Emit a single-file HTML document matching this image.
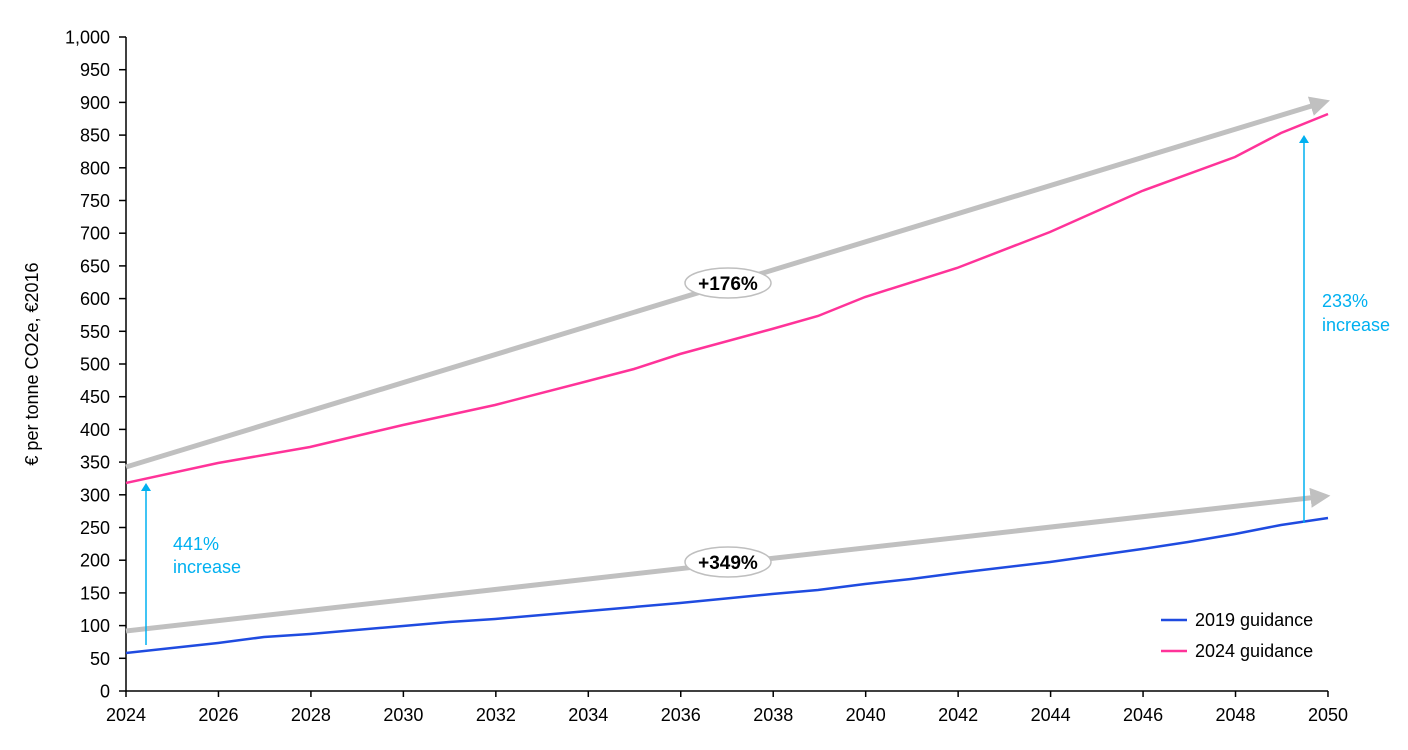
<!DOCTYPE html>
<html><head><meta charset="utf-8"><style>body{margin:0;background:#fff}</style></head><body>
<svg width="1408" height="745" xmlns="http://www.w3.org/2000/svg" font-family="Liberation Sans, Arial, sans-serif">
<defs>
<marker id="ga" markerWidth="4" markerHeight="4" refX="1.5" refY="2" orient="auto" markerUnits="strokeWidth"><path d="M0,0 L4,2 L0,4 Z" fill="#c0c0c0"/></marker>
<marker id="ca" markerWidth="8" markerHeight="10" refX="4" refY="5" orient="auto" markerUnits="userSpaceOnUse"><path d="M0,0 L8,5 L0,10 Z" fill="#00b0f0"/></marker>
</defs>
<g stroke="#000" stroke-width="1.5" fill="none">
<path d="M126,37 V691 H1328"/>
</g>
<g id="yt" font-size="18" fill="#000" text-anchor="end"></g>
<g id="xt" font-size="18" fill="#000" text-anchor="middle"></g>
<text transform="translate(38,364) rotate(-90)" font-size="18" text-anchor="middle">€ per tonne CO2e, €2016</text>
<line x1="126" y1="467" x2="1318" y2="104" stroke="#c0c0c0" stroke-width="5" marker-end="url(#ga)"/>
<line x1="126" y1="631" x2="1318" y2="497" stroke="#c0c0c0" stroke-width="5" marker-end="url(#ga)"/>
<polyline fill="none" stroke="#ff3399" stroke-width="2.5" points="126,483 218,463 310,447 403,425 495,405 588,381 634,369 680,354 772,329 818,316 865,297 957,268 1050,232 1142,191 1235,157 1281,133 1328,114"/>
<polyline fill="none" stroke="#1f4be0" stroke-width="2.5" points="126,653 218,643 264,637 310,634 403,626 449,622 495,619 588,611 680,603 772,594 818,590 865,584 911,579 957,573 1050,562 1142,549 1188,542 1235,534 1281,525 1328,518"/>
<ellipse cx="728" cy="283" rx="43" ry="15" fill="#fff" stroke="#bfbfbf" stroke-width="1.5"/>
<text x="728" y="290" font-size="19" font-weight="bold" text-anchor="middle">+176%</text>
<ellipse cx="728" cy="562" rx="43" ry="15" fill="#fff" stroke="#bfbfbf" stroke-width="1.5"/>
<text x="728" y="569" font-size="19" font-weight="bold" text-anchor="middle">+349%</text>
<line x1="146" y1="645" x2="146" y2="487" stroke="#00b0f0" stroke-width="1.5" marker-end="url(#ca)"/>
<line x1="1304" y1="523" x2="1304" y2="139" stroke="#00b0f0" stroke-width="1.5" marker-end="url(#ca)"/>
<text x="173" y="550" font-size="18" fill="#00b0f0">441%</text>
<text x="173" y="573" font-size="18" fill="#00b0f0">increase</text>
<text x="1322" y="307" font-size="18" fill="#00b0f0">233%</text>
<text x="1322" y="331" font-size="18" fill="#00b0f0">increase</text>
<line x1="1161" y1="620" x2="1187" y2="620" stroke="#1f4be0" stroke-width="2.5"/>
<text x="1195" y="626" font-size="18">2019 guidance</text>
<line x1="1161" y1="651" x2="1187" y2="651" stroke="#ff3399" stroke-width="2.5"/>
<text x="1195" y="657" font-size="18">2024 guidance</text>
<script>
var ns="http://www.w3.org/2000/svg",yt=document.getElementById("yt"),xt=document.getElementById("xt"),s=document.querySelector("svg");
for(var v=0;v<=1000;v+=50){var y=691-v*0.654;var t=document.createElementNS(ns,"text");t.setAttribute("x",110);t.setAttribute("y",y+6.5);t.textContent=v==1000?"1,000":v;yt.appendChild(t);
var l=document.createElementNS(ns,"line");l.setAttribute("x1",119);l.setAttribute("x2",126);l.setAttribute("y1",y);l.setAttribute("y2",y);l.setAttribute("stroke","#000");l.setAttribute("stroke-width","1.5");s.appendChild(l);}
for(var yr=2024;yr<=2050;yr+=2){var x=126+(yr-2024)*46.23;var t=document.createElementNS(ns,"text");t.setAttribute("x",x);t.setAttribute("y",721);t.textContent=yr;xt.appendChild(t);
var l=document.createElementNS(ns,"line");l.setAttribute("x1",x);l.setAttribute("x2",x);l.setAttribute("y1",691);l.setAttribute("y2",697);l.setAttribute("stroke","#000");l.setAttribute("stroke-width","1.5");s.appendChild(l);}
</script>
</svg>
</body></html>
